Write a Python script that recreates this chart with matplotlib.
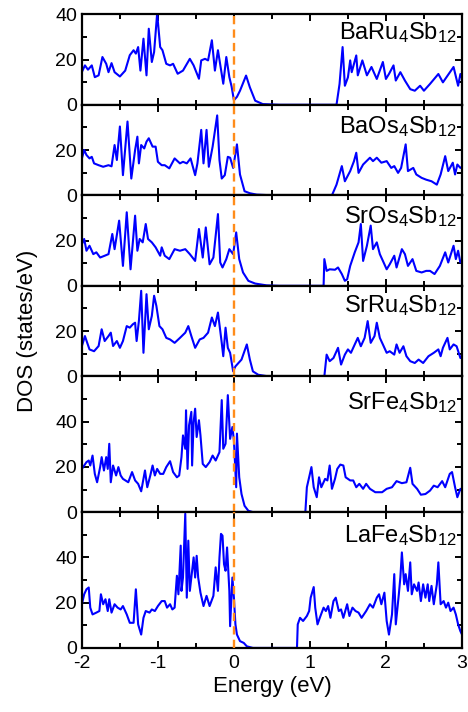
import matplotlib
matplotlib.use('Agg')
import matplotlib.pyplot as plt
from matplotlib.ticker import MultipleLocator

plt.rcParams['font.family'] = ['Liberation Sans', 'DejaVu Sans']
plt.rcParams['mathtext.default'] = 'regular'

# DOS curves, energy in eV, DOS in states/eV
baru_e = [-2.00, -1.96, -1.92, -1.87, -1.83, -1.78, -1.73, -1.68, -1.65, -1.61, -1.57, -1.50,
          -1.43, -1.37, -1.32, -1.29, -1.26, -1.23, -1.19, -1.15, -1.12, -1.08, -1.05, -1.01,
          -0.97, -0.94, -0.89, -0.84, -0.80, -0.74, -0.67, -0.58, -0.53, -0.46, -0.43, -0.38,
          -0.34, -0.29, -0.25, -0.21, -0.14, -0.10, -0.06, -0.03, 0.00, 0.04, 0.08, 0.16, 0.21,
          0.28, 0.38, 0.60, 1.35, 1.39, 1.43, 1.46, 1.50, 1.53, 1.55, 1.61, 1.63, 1.69, 1.75,
          1.81, 1.88, 1.96, 2.00, 2.04, 2.10, 2.13, 2.19, 2.25, 2.32, 2.38, 2.45, 2.50, 2.58,
          2.69, 2.75, 2.89, 2.95, 2.98, 3.00]
baru_dos = [14.5, 17.4, 15.5, 17.4, 12.2, 13.0, 21.1, 18.1, 14.4, 18.4, 14.4, 12.5,
            15.1, 21.9, 24.1, 22.6, 25.5, 15.1, 29.2, 13.0, 33.6, 18.9, 23.3, 40.3,
            25.5, 24.1, 18.1, 17.4, 18.1, 13.7, 15.1, 20.3, 17.4, 11.5, 19.6, 20.3,
            19.6, 28.5, 15.1, 24.1, 9.3, 21.1, 12.2, 8.0, 2.0, 3.5, 6.2, 12.9, 7.7,
            1.8, 0.3, 0.0, 0.0, 9.2, 25.5, 8.4, 12.1, 19.6, 14.4, 21.8, 13.0, 19.6, 13.0,
            16.7, 11.4, 18.9, 11.4, 13.6, 17.4, 10.7, 14.4, 10.7, 6.9, 6.2, 8.4, 6.2, 9.2,
            13.6, 9.9, 16.7, 8.4, 13.6, 12.0]

baos_e = [-2.00, -1.97, -1.94, -1.90, -1.87, -1.84, -1.78, -1.72, -1.65, -1.61, -1.57, -1.54,
          -1.50, -1.46, -1.40, -1.35, -1.30, -1.27, -1.25, -1.22, -1.18, -1.15, -1.12, -1.07,
          -1.03, -1.00, -0.95, -0.91, -0.85, -0.78, -0.71, -0.67, -0.62, -0.57, -0.51, -0.48,
          -0.43, -0.40, -0.36, -0.33, -0.28, -0.22, -0.19, -0.16, -0.12, -0.08, -0.05, -0.01,
          0.04, 0.08, 0.14, 0.21, 0.30, 0.50, 1.29, 1.35, 1.42, 1.46, 1.53, 1.58, 1.61, 1.64,
          1.70, 1.79, 1.83, 1.88, 1.94, 2.01, 2.07, 2.11, 2.16, 2.20, 2.26, 2.29, 2.36, 2.40,
          2.47, 2.53, 2.60, 2.67, 2.72, 2.78, 2.82, 2.88, 2.91, 2.94, 2.98, 3.00]
baos_dos = [16.3, 20.0, 17.8, 16.3, 17.0, 14.1, 13.3, 12.6, 13.3, 12.8, 22.2, 15.6,
            30.4, 8.9, 32.6, 7.4, 20.0, 25.9, 14.1, 22.2, 20.7, 23.7, 25.2, 21.5,
            21.5, 14.8, 13.3, 13.3, 11.9, 16.3, 14.1, 14.8, 14.1, 16.3, 8.9, 14.1,
            28.9, 14.1, 28.9, 12.6, 21.5, 35.3, 15.6, 7.4, 8.9, 17.0, 16.6, 12.1,
            22.5, 9.2, 1.8, 0.9, 0.3, 0.0, 0.0, 4.7, 12.9, 6.2, 10.7, 15.1, 18.8, 9.9,
            13.6, 16.6, 15.1, 16.6, 14.4, 15.1, 12.1, 12.9, 9.9, 12.1, 22.5, 10.7, 12.1, 9.2,
            7.7, 6.9, 6.2, 4.7, 9.2, 17.3, 10.7, 14.4, 9.2, 13.6, 12.1, 12.5]

sros_e = [-2.00, -1.97, -1.94, -1.90, -1.85, -1.81, -1.76, -1.70, -1.65, -1.60, -1.57, -1.51,
          -1.46, -1.41, -1.36, -1.30, -1.27, -1.24, -1.20, -1.16, -1.13, -1.08, -1.03, -0.97,
          -0.95, -0.91, -0.85, -0.78, -0.71, -0.64, -0.58, -0.51, -0.46, -0.41, -0.37, -0.32,
          -0.27, -0.21, -0.18, -0.15, -0.10, -0.06, -0.01, 0.03, 0.07, 0.12, 0.19, 0.28, 0.43,
          0.60, 1.18, 1.19, 1.22, 1.26, 1.33, 1.37, 1.42, 1.46, 1.49, 1.53, 1.59, 1.64, 1.67,
          1.70, 1.75, 1.80, 1.83, 1.88, 1.92, 1.97, 2.01, 2.05, 2.11, 2.14, 2.21, 2.25, 2.29,
          2.35, 2.40, 2.47, 2.53, 2.58, 2.64, 2.71, 2.78, 2.82, 2.89, 2.92, 2.95, 2.98, 3.00]
sros_dos = [18.4, 20.7, 15.5, 17.7, 14.0, 14.8, 12.5, 13.3, 14.0, 22.9, 16.2, 28.8,
            8.8, 32.5, 7.3, 31.0, 15.5, 20.7, 19.2, 27.3, 20.7, 19.2, 17.0, 13.3,
            17.0, 13.3, 11.8, 16.2, 15.5, 16.2, 14.0, 11.0, 25.1, 12.5, 25.8, 9.5,
            12.5, 31.7, 10.3, 8.1, 11.8, 16.2, 14.0, 23.6, 11.8, 5.9, 2.2, 1.0, 0.2,
            0.0, 0.0, 11.8, 6.6, 7.3, 7.1, 8.1, 5.2, 2.2, 2.9, 8.8, 14.8, 19.2, 27.3,
            11.0, 17.7, 26.6, 16.2, 19.2, 14.0, 10.3, 7.3, 9.5, 13.3, 8.1, 16.2, 14.0, 8.8,
            11.8, 6.6, 5.9, 6.6, 6.6, 5.2, 8.8, 14.8, 10.3, 17.7, 11.8, 15.5, 10.3, 11.0]

srru_e = [-2.00, -1.96, -1.93, -1.90, -1.84, -1.78, -1.74, -1.70, -1.65, -1.62, -1.59, -1.54,
          -1.50, -1.46, -1.41, -1.37, -1.33, -1.30, -1.28, -1.25, -1.22, -1.19, -1.15, -1.12,
          -1.08, -1.05, -1.02, -0.98, -0.94, -0.89, -0.84, -0.78, -0.71, -0.64, -0.60, -0.56,
          -0.51, -0.45, -0.40, -0.34, -0.29, -0.25, -0.21, -0.16, -0.14, -0.11, -0.08, -0.05,
          -0.01, 0.02, 0.10, 0.17, 0.21, 0.25, 0.32, 0.45, 1.19, 1.22, 1.26, 1.31, 1.37, 1.41,
          1.46, 1.50, 1.54, 1.59, 1.63, 1.67, 1.72, 1.76, 1.80, 1.85, 1.88, 1.92, 1.96, 2.01,
          2.05, 2.11, 2.14, 2.18, 2.23, 2.27, 2.32, 2.38, 2.43, 2.49, 2.56, 2.63, 2.69, 2.72,
          2.75, 2.81, 2.84, 2.89, 2.93, 2.98, 3.00]
srru_dos = [13.4, 17.8, 14.8, 11.9, 11.1, 13.4, 20.8, 15.6, 17.8, 19.3, 13.4, 15.6,
            12.6, 15.6, 22.2, 21.5, 23.0, 23.7, 15.6, 24.5, 37.8, 10.4, 36.3, 20.8,
            26.7, 35.6, 31.1, 22.2, 20.8, 17.0, 16.3, 14.8, 17.0, 19.3, 22.2, 17.8,
            12.6, 16.3, 17.0, 19.3, 26.0, 22.2, 28.2, 14.8, 8.9, 21.5, 12.6, 10.4,
            2.2, 4.4, 7.4, 14.1, 7.4, 2.2, 0.7, 0.0, 0.0, 9.6, 6.7, 8.1, 12.6, 5.2,
            9.6, 11.9, 10.4, 14.1, 17.0, 13.3, 17.0, 24.4, 14.8, 17.8, 23.7, 17.0, 14.1, 10.4,
            11.1, 9.6, 14.1, 10.4, 13.3, 8.9, 6.7, 5.9, 7.4, 5.9, 8.9, 10.4, 11.9, 8.9,
            12.6, 17.0, 11.9, 14.1, 13.3, 8.1, 9.0]

srfe_e = [-2.00, -1.97, -1.94, -1.91, -1.89, -1.86, -1.83, -1.80, -1.76, -1.74, -1.71, -1.68,
          -1.66, -1.64, -1.62, -1.59, -1.55, -1.52, -1.49, -1.46, -1.39, -1.34, -1.30, -1.26,
          -1.22, -1.17, -1.14, -1.10, -1.07, -1.04, -1.01, -0.97, -0.93, -0.89, -0.84, -0.80,
          -0.75, -0.72, -0.69, -0.67, -0.64, -0.63, -0.61, -0.59, -0.56, -0.55, -0.53, -0.51,
          -0.49, -0.46, -0.44, -0.41, -0.37, -0.32, -0.28, -0.24, -0.19, -0.16, -0.14, -0.11,
          -0.08, -0.05, -0.02, 0.00, 0.03, 0.04, 0.07, 0.10, 0.14, 0.19, 0.25, 0.94, 0.96,
          1.00, 1.02, 1.05, 1.09, 1.12, 1.15, 1.20, 1.23, 1.26, 1.29, 1.33, 1.36, 1.40, 1.44,
          1.47, 1.53, 1.57, 1.61, 1.65, 1.70, 1.74, 1.79, 1.86, 1.95, 2.01, 2.08, 2.14, 2.21,
          2.27, 2.32, 2.35, 2.41, 2.46, 2.52, 2.58, 2.63, 2.68, 2.74, 2.78, 2.84, 2.87, 2.91,
          2.94, 2.98, 3.00]
srfe_dos = [19.1, 20.6, 22.1, 22.8, 20.6, 25.0, 16.9, 13.2, 19.9, 24.3, 18.4, 24.3,
            19.1, 30.2, 13.2, 20.6, 16.2, 19.9, 16.2, 14.7, 13.2, 17.7, 14.0, 12.5,
            9.2, 18.4, 11.0, 16.2, 20.6, 16.2, 19.1, 16.9, 16.9, 19.9, 22.5, 17.7,
            15.4, 16.2, 24.3, 33.9, 28.0, 45.0, 19.1, 38.4, 44.3, 20.6, 39.8, 45.7,
            33.2, 40.6, 33.9, 21.3, 19.9, 22.1, 25.0, 22.8, 26.5, 49.5, 28.0, 30.2,
            51.7, 32.4, 37.6, 31.7, 11.0, 34.7, 15.4, 8.0, 2.8, 0.6, 0.0, 0.0, 11.0,
            16.9, 19.9, 11.0, 6.6, 15.4, 11.0, 14.7, 14.0, 20.6, 10.3, 14.7, 19.1, 21.0, 20.6,
            15.4, 14.0, 14.0, 11.0, 12.5, 10.3, 12.5, 10.3, 8.8, 8.8, 10.3, 11.0, 13.7, 12.8,
            13.2, 19.6, 12.5, 10.3, 7.7, 8.0, 9.5, 11.7, 11.0, 13.7, 11.0, 16.9, 17.7, 11.0,
            6.6, 10.3, 10.0]

lafe_e = [-2.00, -1.97, -1.94, -1.91, -1.89, -1.86, -1.81, -1.77, -1.75, -1.72, -1.69, -1.66,
          -1.64, -1.61, -1.57, -1.53, -1.49, -1.46, -1.41, -1.37, -1.32, -1.29, -1.26, -1.22,
          -1.19, -1.16, -1.11, -1.08, -1.04, -1.00, -0.95, -0.91, -0.88, -0.84, -0.81, -0.78,
          -0.75, -0.73, -0.70, -0.69, -0.67, -0.64, -0.62, -0.60, -0.58, -0.55, -0.53, -0.51,
          -0.49, -0.47, -0.44, -0.40, -0.36, -0.32, -0.27, -0.24, -0.21, -0.19, -0.17, -0.15,
          -0.13, -0.11, -0.09, -0.06, -0.05, -0.02, 0.00, 0.02, 0.04, 0.08, 0.13, 0.17, 0.25,
          0.83, 0.84, 0.87, 0.91, 0.96, 0.99, 1.01, 1.05, 1.07, 1.10, 1.13, 1.18, 1.21, 1.24,
          1.27, 1.31, 1.34, 1.38, 1.41, 1.44, 1.49, 1.52, 1.56, 1.60, 1.64, 1.68, 1.74, 1.79,
          1.83, 1.88, 1.91, 1.94, 1.98, 2.01, 2.04, 2.08, 2.11, 2.13, 2.17, 2.19, 2.21, 2.24,
          2.26, 2.29, 2.32, 2.34, 2.37, 2.41, 2.43, 2.46, 2.49, 2.52, 2.55, 2.57, 2.60, 2.63,
          2.67, 2.69, 2.72, 2.76, 2.79, 2.82, 2.85, 2.89, 2.92, 2.95, 2.98, 3.00]
lafe_dos = [19.3, 23.7, 25.9, 26.7, 17.8, 14.8, 15.6, 16.3, 23.7, 19.3, 21.5, 16.3,
            21.5, 15.6, 19.3, 17.8, 17.0, 18.5, 14.8, 11.1, 11.1, 25.9, 10.4, 5.9,
            13.3, 16.3, 15.6, 17.0, 16.3, 18.5, 20.7, 20.7, 17.8, 19.3, 17.0, 17.8,
            31.9, 23.7, 45.2, 25.2, 31.1, 59.3, 22.2, 47.4, 25.2, 34.1, 40.0, 31.1,
            40.7, 31.1, 24.4, 18.5, 23.0, 18.5, 23.0, 35.6, 25.2, 40.0, 50.4, 49.6,
            37.0, 34.1, 44.4, 25.2, 9.6, 31.1, 22.2, 10.4, 5.9, 3.0, 2.2, 0.7, 0.0,
            0.0, 10.4, 13.3, 11.9, 14.1, 16.3, 22.2, 26.9, 17.8, 10.4, 13.3, 17.8, 16.3, 18.5,
            13.3, 20.7, 22.2, 16.3, 17.0, 13.3, 19.3, 14.1, 17.8, 16.3, 15.6, 13.3, 16.3, 19.3,
            17.8, 22.2, 23.7, 19.3, 24.4, 11.9, 5.9, 14.8, 32.6, 10.4, 23.7, 31.1, 42.2, 28.1,
            32.6, 25.2, 37.8, 23.7, 28.1, 25.2, 28.9, 20.7, 28.1, 22.2, 28.1, 20.7, 27.4, 19.3,
            28.1, 37.8, 19.3, 20.7, 17.8, 20.0, 16.3, 17.8, 14.8, 10.4, 7.4, 6.0]

names = [r'BaRu$_4$Sb$_{12}$', r'BaOs$_4$Sb$_{12}$', r'SrOs$_4$Sb$_{12}$',
         r'SrRu$_4$Sb$_{12}$', r'SrFe$_4$Sb$_{12}$', r'LaFe$_4$Sb$_{12}$']
energies = [baru_e, baos_e, sros_e, srru_e, srfe_e, lafe_e]
dos = [baru_dos, baos_dos, sros_dos, srru_dos, srfe_dos, lafe_dos]
ymax = [40, 40, 40, 40, 60, 60]
label_y = [0.72, 0.69, 0.69, 0.71, 0.76, 0.78]

fig = plt.figure(figsize=(4.68, 7.12), dpi=100)
gs = fig.add_gridspec(6, 1, height_ratios=ymax, hspace=0,
                      left=0.175, right=0.987, top=0.980, bottom=0.090)

axes = []
for i in range(6):
    ax = fig.add_subplot(gs[i], sharex=axes[0] if axes else None)
    axes.append(ax)
    ax.plot(energies[i], dos[i], color='#0000ff', lw=1.5)
    ax.axvline(0, color='#ff8c1a', ls=(0, (3.5, 2.2)), lw=1.7, zorder=3)
    ax.set_xlim(-2, 3)
    ax.set_ylim(0, ymax[i])
    if i == 0 or ymax[i] == 60:
        ax.set_yticks([0, 20, 40])
    else:
        ax.set_yticks([0, 20])
    ax.yaxis.set_minor_locator(MultipleLocator(10))
    ax.xaxis.set_major_locator(MultipleLocator(1))
    ax.xaxis.set_minor_locator(MultipleLocator(0.5))
    ax.tick_params(which='both', direction='in', top=True, right=True,
                   width=1.4, labelsize=14)
    ax.tick_params(which='major', length=5)
    ax.tick_params(which='minor', length=3.5)
    ax.tick_params(axis='x', pad=5)
    for s in ax.spines.values():
        s.set_linewidth(1.6)
    ax.text(0.987, label_y[i], names[i], transform=ax.transAxes,
            ha='right', va='baseline', fontsize=17)
    if i < 5:
        ax.tick_params(labelbottom=False)

axes[-1].set_xticks([-2, -1, 0, 1, 2, 3])
axes[-1].set_xticklabels(['-2', '-1', '0', '1', '2', '3'])
axes[-1].set_xlabel('Energy (eV)', fontsize=16, labelpad=3)
fig.text(0.058, 0.535, 'DOS (states/eV)', rotation=90, ha='center', va='center',
         fontsize=16)

fig.savefig('out.png', dpi=100)
